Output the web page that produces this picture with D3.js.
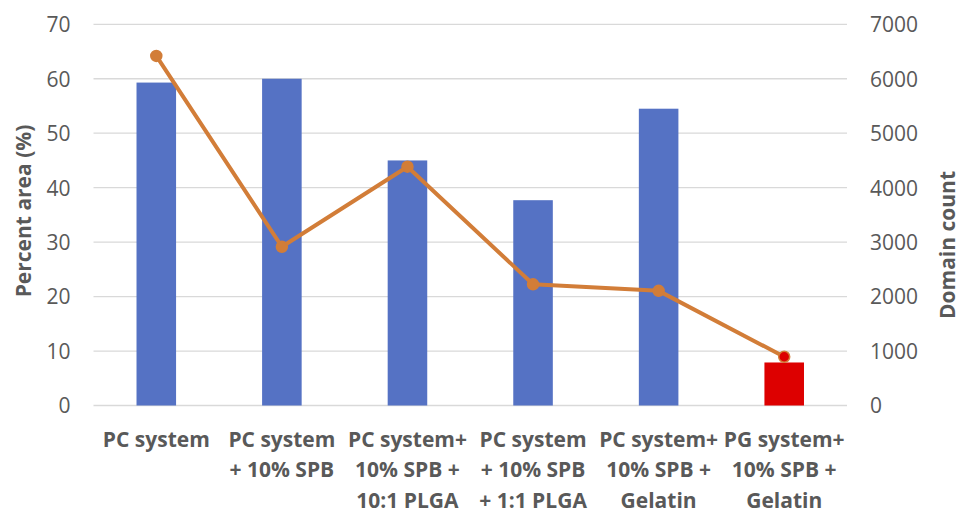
<!DOCTYPE html>
<html><head><meta charset="utf-8">
<script src="https://cdn.jsdelivr.net/npm/d3@7"></script>
<style>body{margin:0;background:#fff;} text{font-family:"Open Sans",sans-serif;}</style>
</head><body><svg id="c" width="960" height="512"></svg>
<script>
const categories = [
  ["PC system"],
  ["PC system", "+ 10% SPB"],
  ["PC system+", "10% SPB +", "10:1 PLGA"],
  ["PC system", "+ 10% SPB", "+ 1:1 PLGA"],
  ["PC system+", "10% SPB +", "Gelatin"],
  ["PG system+", "10% SPB +", "Gelatin"]
];
const percentArea = [59.3, 60.0, 45.0, 37.7, 54.5, 7.9];
const domainCount = [6420, 2915, 4385, 2225, 2105, 895];
const barColors = ["#5572C4", "#5572C4", "#5572C4", "#5572C4", "#5572C4", "#DD0000"];
const leftTicks = [0, 10, 20, 30, 40, 50, 60, 70];
const rightTicks = [0, 1000, 2000, 3000, 4000, 5000, 6000, 7000];

const svg = d3.select("#c");
const m = {l: 93.5, r: 847, t: 24.3, b: 405.5};
const idx = categories.map((d, i) => i);
const x = d3.scaleBand().domain(idx).range([m.l, m.r]).paddingInner(0.685).paddingOuter(0.3425);
const yL = d3.scaleLinear().domain([0, 70]).range([m.b, m.t]);
const yR = d3.scaleLinear().domain([0, 7000]).range([m.b, m.t]);
const grey = "#595959";

// gridlines
svg.append("g").selectAll("line").data(leftTicks).join("line")
  .attr("x1", m.l).attr("x2", m.r)
  .attr("y1", d => yL(d)).attr("y2", d => yL(d))
  .attr("stroke", "#D9D9D9").attr("stroke-width", 1.3);

// left axis
const gl = svg.append("g").attr("transform", `translate(${m.l},0)`)
  .call(d3.axisLeft(yL).tickValues(leftTicks).tickSize(0).tickPadding(23));
gl.select(".domain").remove();
gl.selectAll("text").attr("fill", grey).style("font-size", "21px").attr("dy", "0.35em");

// right axis
const gr = svg.append("g").attr("transform", `translate(${m.r},0)`)
  .call(d3.axisRight(yR).tickValues(rightTicks).tickFormat(d3.format("d")).tickSize(0).tickPadding(23));
gr.select(".domain").remove();
gr.selectAll("text").attr("fill", grey).style("font-size", "21px").attr("dy", "0.35em");

// bars
svg.append("g").selectAll("rect").data(percentArea).join("rect")
  .attr("x", (d, i) => x(i)).attr("width", x.bandwidth())
  .attr("y", d => yL(d)).attr("height", d => yL(0) - yL(d))
  .attr("fill", (d, i) => barColors[i]);

// line
const lineColor = "#D27D38";
svg.append("path").datum(domainCount)
  .attr("d", d3.line().x((d, i) => x(i) + x.bandwidth() / 2).y(d => yR(d)))
  .attr("fill", "none").attr("stroke", lineColor).attr("stroke-width", 4).attr("stroke-linejoin", "round");
svg.append("g").selectAll("circle").data(domainCount).join("circle")
  .attr("cx", (d, i) => x(i) + x.bandwidth() / 2).attr("cy", d => yR(d)).attr("r", 5.5)
  .attr("fill", (d, i) => i === 5 ? "#DD0000" : lineColor)
  .attr("stroke", lineColor).attr("stroke-width", 1.5);

// category labels
const cl = svg.append("g");
categories.forEach((lines, i) => {
  const t = cl.append("text").attr("text-anchor", "middle")
    .attr("fill", grey).style("font-size", "21px").style("font-weight", "bold");
  lines.forEach((s, j) => {
    t.append("tspan").attr("x", x(i) + x.bandwidth() / 2).attr("y", 446.5 + j * 30.5).text(s);
  });
});

// axis titles
svg.append("text").attr("transform", "translate(31,211) rotate(-90)")
  .attr("text-anchor", "middle").attr("fill", grey)
  .style("font-size", "21px").style("font-weight", "bold").text("Percent area (%)");
svg.append("text").attr("transform", "translate(955,245) rotate(-90)")
  .attr("text-anchor", "middle").attr("fill", grey)
  .style("font-size", "21px").style("font-weight", "bold").text("Domain count");
</script></body></html>
